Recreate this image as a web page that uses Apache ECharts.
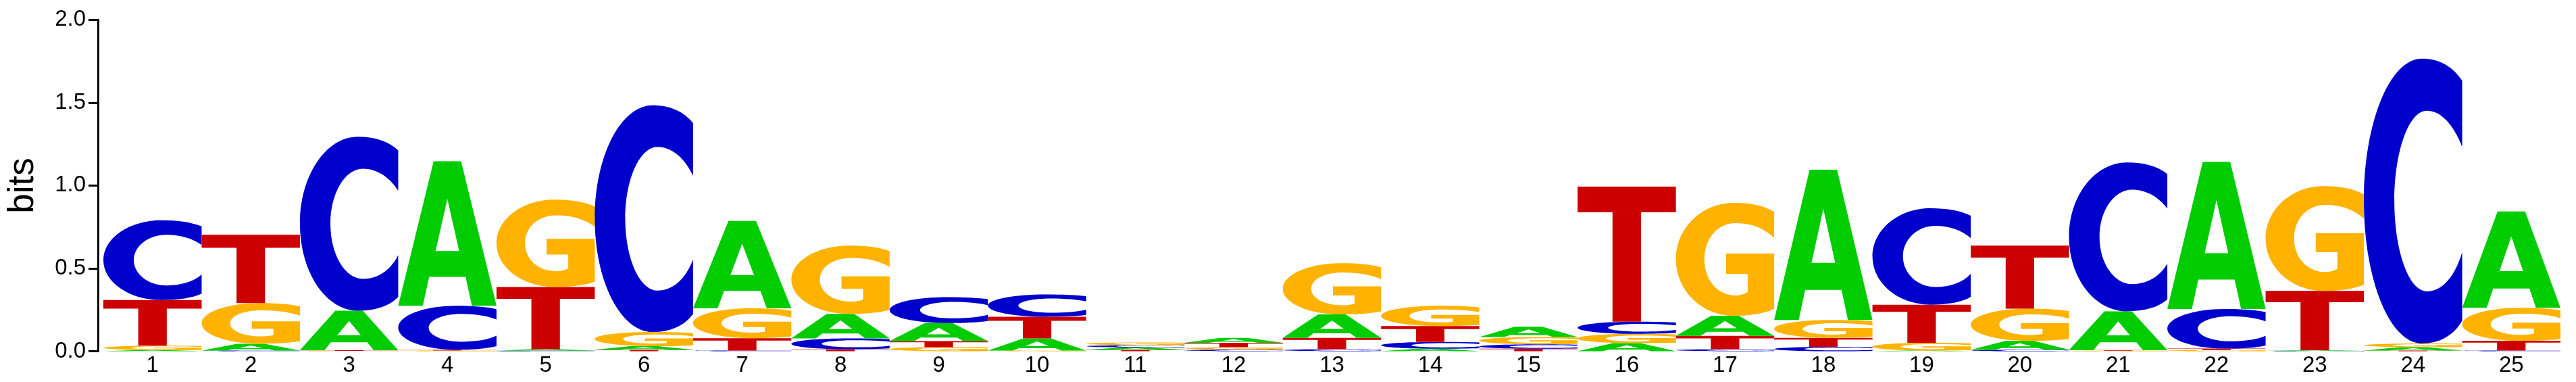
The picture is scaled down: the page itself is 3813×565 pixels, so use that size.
<!DOCTYPE html>
<html><head><meta charset="utf-8">
<script src="https://cdn.jsdelivr.net/npm/echarts@6/dist/echarts.min.js"></script>
<style>html,body{margin:0;padding:0;background:#fff}#chart{width:3813px;height:565px}</style>
</head><body><div id="chart"></div>
<script>
// Sequence positions
const positions = ['1','2','3','4','5','6','7','8','9','10','11','12','13','14','15','16','17','18','19','20','21','22','23','24','25'];
// Information content (bits) of each base at each position
const bitsA = [0.007,0.041,0.239,0.872,0.009,0.022,0.527,0.147,0.109,0.074,0.014,0.030,0.141,0.015,0.062,0.049,0.121,0.906,0.004,0.054,0.234,0.887,0.004,0.020,0.582];
const bitsC = [0.482,0.004,1.049,0.265,0.003,1.368,0.004,0.066,0.156,0.135,0.015,0.010,0.012,0.041,0.027,0.074,0.012,0.027,0.582,0.009,0.898,0.239,0.002,1.719,0.004];
const bitsG = [0.027,0.246,0.002,0.004,0.527,0.085,0.180,0.412,0.024,0.004,0.016,0.014,0.309,0.122,0.044,0.056,0.682,0.108,0.047,0.194,0.003,0.007,0.633,0.023,0.199];
const bitsT = [0.275,0.412,0.004,0.005,0.376,0.009,0.075,0.012,0.037,0.130,0.008,0.027,0.069,0.096,0.015,0.814,0.081,0.054,0.230,0.380,0.004,0.009,0.358,0.004,0.059];
const yTicks = [0, 0.5, 1.0, 1.5, 2.0];

const LETTERS = ['A','C','G','T'];
const COLORS = {A:'#00CC00', C:'#0000CC', G:'#FFB300', T:'#CC0000'};
const PATHS = {
  A: 'M0,100 L36,0 L64,0 L100,100 L75,100 L68.5,80 L31.5,80 L25,100 Z M38,62 L62,62 L50,26 Z',
  C: 'M100,7.8 C90,2.5 76,0 59,0 C26.4,0 0,22.4 0,50 C0,77.6 26.4,100 59,100 C76,100 91,97.5 100,92 L100,68 C92,77 79,81.7 64,81.7 C45.8,81.7 31,67.5 31,50 C31,32.5 45.8,18.3 64,18.3 C78,18.3 91,23 100,31 Z',
  G: 'M100,8 C90,2.5 76,0 59,0 C26.4,0 0,22.4 0,50 C0,77.6 26.4,100 59,100 C76,100 90,98 100,94 L100,45 L51,45 L51,63 L73,63 L73,79 C69,81 65,82 61,82 C42,82 29,68 29,50 C29,32 42,18 61,18 C78,18 90,23 100,31 Z',
  T: 'M0,0 L100,0 L100,19 L64.5,19 L64.5,100 L35.5,100 L35.5,19 L0,19 Z'
};

const data = positions.map((p, i) => [i, bitsA[i], bitsC[i], bitsG[i], bitsT[i]]);

const chart = echarts.init(document.getElementById('chart'), null, {renderer: 'canvas'});
chart.setOption({
  animation: false,
  backgroundColor: '#ffffff',
  grid: {left: 153, right: 23, top: 29.3, bottom: 45.5, containLabel: false, outerBoundsMode: 'none'},
  xAxis: {
    type: 'category',
    data: positions,
    boundaryGap: true,
    axisLine: {show: false},
    axisTick: {show: false},
    splitLine: {show: false},
    axisLabel: {fontSize: 33, color: '#000', margin: 5, fontFamily: 'Liberation Sans, Arial, sans-serif', interval: 0}
  },
  yAxis: {
    type: 'value',
    min: yTicks[0],
    max: yTicks[yTicks.length - 1],
    interval: yTicks[1] - yTicks[0],
    offset: 8,
    splitLine: {show: false},
    axisLine: {show: true, lineStyle: {color: '#000', width: 3}},
    axisTick: {show: true, inside: false, length: 14, lineStyle: {color: '#000', width: 3}},
    axisLabel: {fontSize: 33, color: '#000', margin: 18, padding: [4, 0, 0, 0],
      fontFamily: 'Liberation Sans, Arial, sans-serif',
      formatter: v => v.toFixed(1)},
    name: 'bits',
    nameLocation: 'middle',
    nameRotate: 90,
    nameGap: 84,
    nameTextStyle: {fontSize: 53, color: '#000', fontFamily: 'Liberation Sans, Arial, sans-serif'}
  },
  series: [{
    type: 'custom',
    data: data,
    encode: {x: 0, y: [1, 2, 3, 4]},
    renderItem: function (params, api) {
      const i = api.value(0);
      const items = LETTERS.map((k, j) => ({k: k, h: api.value(j + 1)}))
        .filter(d => d.h > 0)
        .sort((a, b) => a.h - b.h);
      const bw = api.size([1, 0])[0];
      let base = 0;
      const children = [];
      items.forEach(L => {
        const p0 = api.coord([i, base]);
        const p1 = api.coord([i, base + L.h]);
        children.push({
          type: 'path',
          shape: {pathData: PATHS[L.k], x: p0[0] - bw / 2, y: p1[1], width: bw, height: p0[1] - p1[1], layout: 'cover'},
          style: {fill: COLORS[L.k]}
        });
        base += L.h;
      });
      return {type: 'group', children: children};
    }
  }]
});
</script>
</body></html>
